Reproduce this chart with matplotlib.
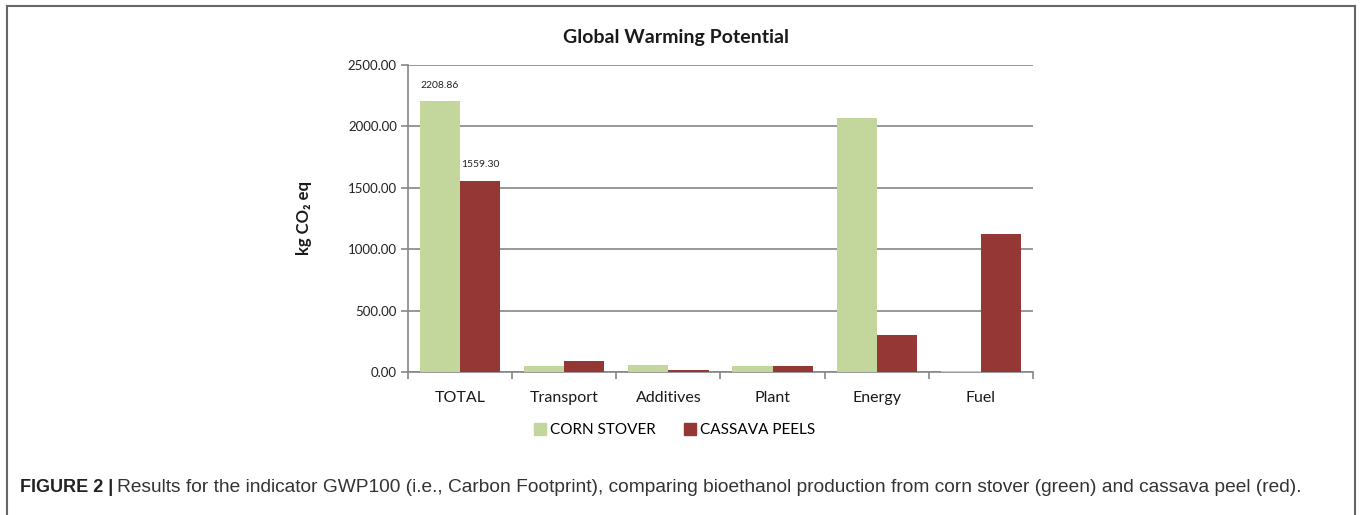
import matplotlib
matplotlib.use("Agg")
import matplotlib.pyplot as plt
from matplotlib.lines import Line2D
from matplotlib.patches import Patch
import numpy as np

categories = ["TOTAL", "Transport", "Additives", "Plant", "Energy", "Fuel"]
corn_stover = [2208.86, 46, 57, 46, 2068, 8]
cassava_peels = [1559.30, 87, 15, 46, 299, 1123]
series_names = ["CORN STOVER", "CASSAVA PEELS"]
yticks = [0, 500, 1000, 1500, 2000, 2500]

green = "#C3D69B"
red = "#953735"
grid_gray = "#868686"
font = ["Lato", "DejaVu Sans"]

plt.rcParams["font.family"] = font

fig = plt.figure(figsize=(13.63, 5.15), dpi=100)
ax = fig.add_axes([0.2993, 0.2777, 0.4586, 0.5961])

x = np.arange(len(categories))
w = 0.385
ax.bar(x - w / 2, corn_stover, w, color=green, zorder=3)
ax.bar(x + w / 2, cassava_peels, w, color=red, zorder=3)

# value labels only on the TOTAL group
ax.text(x[0] - w / 2, corn_stover[0] + 90, f"{corn_stover[0]:.2f}",
        ha="center", va="bottom", fontsize=7.5, color="#222222")
ax.text(x[0] + w / 2, cassava_peels[0] + 90, f"{cassava_peels[0]:.2f}",
        ha="center", va="bottom", fontsize=7.5, color="#222222")

ax.set_xlim(-0.5, len(categories) - 0.5)
ax.set_ylim(0, 2500)
ax.set_yticks(yticks)
ax.set_yticklabels([f"{v:.2f}" for v in yticks], fontsize=9.5, color="#222222")
ax.yaxis.grid(True, color=grid_gray, linewidth=1.2, zorder=0)
ax.set_axisbelow(True)

ax.set_xticks(x)
ax.set_xticklabels(categories, fontsize=11.5, color="#1a1a1a")
ax.set_xticks(np.arange(len(categories) + 1) - 0.5, minor=True)
ax.tick_params(axis="x", which="major", length=0, pad=14)
ax.tick_params(axis="x", which="minor", length=5, color=grid_gray, width=1.2)
ax.tick_params(axis="y", length=5, color=grid_gray, width=1.2, pad=3)

for side in ["top", "right"]:
    ax.spines[side].set_visible(False)
for side in ["left", "bottom"]:
    ax.spines[side].set_color(grid_gray)
    ax.spines[side].set_linewidth(1.2)

fig.text(676 / 1363, 1 - 38 / 515, "Global Warming Potential", fontsize=14,
         fontweight="bold", color="#1a1a1a", ha="center", va="center")
ax.set_ylabel("kg CO\u2082 eq", fontsize=12, fontweight="bold",
              color="#1a1a1a", labelpad=26)

handles = [Patch(color=green), Patch(color=red)]
fig.legend(handles, series_names, loc="center", bbox_to_anchor=(0.495, 0.165),
           ncol=2, frameon=False, fontsize=11, handlelength=0.8,
           handleheight=0.8, handletextpad=0.3, columnspacing=1.8)

# outer frame (top, left, right)
frame_kw = dict(color="#666666", linewidth=1.5, transform=fig.transFigure)
fig.add_artist(Line2D([7 / 1363, 1355 / 1363], [1 - 6 / 515, 1 - 6 / 515], **frame_kw))
fig.add_artist(Line2D([7 / 1363, 7 / 1363], [0, 1 - 6 / 515], **frame_kw))
fig.add_artist(Line2D([1355 / 1363, 1355 / 1363], [0, 1 - 6 / 515], **frame_kw))

# caption
cap_font = ["Liberation Sans", "DejaVu Sans"]
t1 = fig.text(20 / 1363, 1 - 488 / 515, "FIGURE 2 |", fontsize=13, fontweight="bold",
              family=cap_font, va="center", color="#222222")
fig.canvas.draw()
bb = t1.get_window_extent(fig.canvas.get_renderer())
fig.text(bb.x1 / fig.bbox.width + 4 / 1363, 1 - 488 / 515,
         "Results for the indicator GWP100 (i.e., Carbon Footprint), comparing "
         "bioethanol production from corn stover (green) and cassava peel (red).",
         fontsize=13.8, family=cap_font, va="center", color="#333333")

fig.savefig("out.png", dpi=100)
